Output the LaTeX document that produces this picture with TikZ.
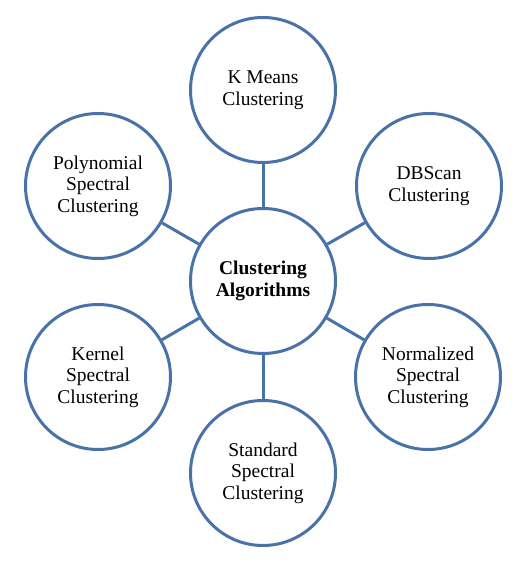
\documentclass[tikz,border=0pt]{standalone}
\usepackage{fontspec}
\setmainfont{Liberation Serif}
\definecolor{ringblue}{RGB}{72,114,168}
\begin{document}
\begin{tikzpicture}[x=1pt,y=1pt,
  ring/.style={circle,draw=ringblue,line width=3pt,minimum size=145pt,inner sep=0pt,
    align=center,font=\fontsize{19.5}{21.5}\selectfont,fill=white},
  link/.style={draw=ringblue,line width=3pt}]
\useasboundingbox (0,0) rectangle (523,564);
\node[ring,font=\fontsize{19.5}{21.5}\selectfont\bfseries] (c) at (263,283) {Clustering\\Algorithms};
\node[ring] (km) at (263,474) {K Means\\Clustering};
\node[ring] (db) at (429,378) {DBScan\\Clustering};
\node[ring] (ns) at (428,187) {Normalized\\Spectral\\Clustering};
\node[ring] (ss) at (263,91) {Standard\\Spectral\\Clustering};
\node[ring] (ks) at (98,187) {Kernel\\Spectral\\Clustering};
\node[ring] (ps) at (98,378) {Polynomial\\Spectral\\Clustering};
\foreach \n in {km,db,ns,ss,ks,ps} \draw[link] (c) -- (\n);
\end{tikzpicture}
\end{document}
